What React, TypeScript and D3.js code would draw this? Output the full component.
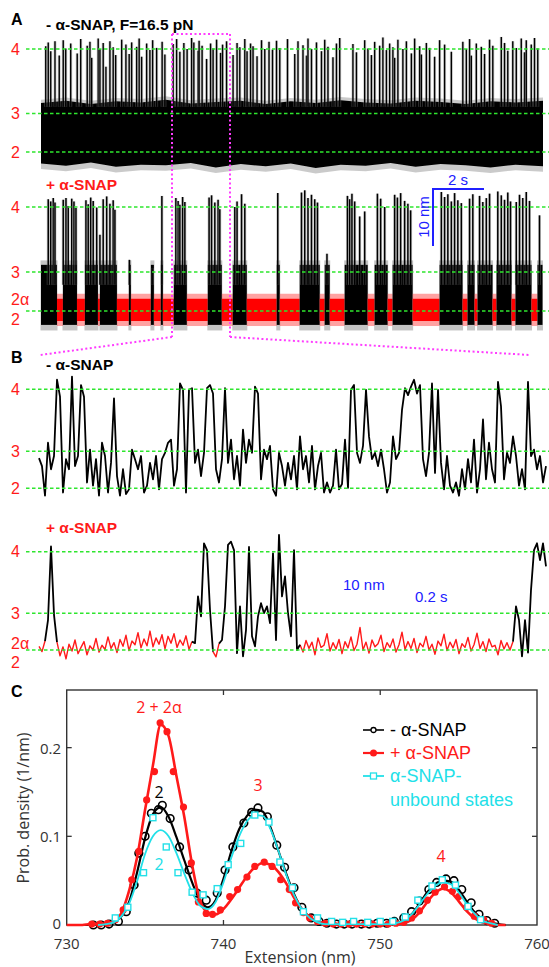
import React from 'react';
import * as d3 from 'd3';

const SANS = '"Liberation Sans", Arial, Helvetica, sans-serif';
const CFONT = '"Open Sans", "Liberation Sans", sans-serif';
const RED = '#ff1a1a';
const GREEN = '#2ee62e';
const BLUE = '#2020ff';
const MAGENTA = '#ff3cff';
const CYAN = '#22e0e8';

// conformational states and their extensions (nm)
const stateNames = ['4', '3', '2'];
const stateNm = [754, 742.3, 735.3];

// ---- A: - alpha-SNAP, 20 s trace ----
// noise band envelope of the 2<->3 flickering, 1 s steps
const aBandTime = [0, 1, 2, 3, 4, 5, 6, 7, 8, 9, 10, 11, 12, 13, 14, 15, 16, 17, 18, 19, 20.1];
const aBandHi = [744.2, 744.6, 744.0, 744.5, 744.3, 744.8, 744.1, 744.4, 744.6, 744.0, 744.5, 744.2, 744.7, 744.3, 744.1, 744.6, 744.4, 744.0, 744.5, 744.3, 744.6];
const aBandLo = [733.2, 732.8, 733.4, 732.6, 733.0, 732.9, 733.3, 732.5, 733.1, 732.7, 733.2, 732.4, 733.0, 732.8, 733.3, 732.6, 733.1, 732.9, 732.5, 733.0, 732.7];
// excursions to state 4: [time s, peak nm]
const aMinusSpikes = [
  [0.19, 754.5], [0.29, 755.2], [0.39, 753.6], [0.56, 755.4], [0.73, 752.8], [0.89, 755.6], [0.99, 754.1], [1.19, 755.0],
  [1.45, 753.2], [1.59, 755.8], [1.85, 754.6], [1.96, 755.3], [2.03, 752.4], [2.29, 755.9], [2.36, 754.0], [2.49, 755.1],
  [2.60, 750.8], [2.76, 755.4], [2.89, 754.3], [2.99, 752.9], [3.23, 755.7], [3.40, 754.8], [3.53, 753.1], [3.63, 755.2],
  [3.83, 754.4], [3.93, 755.9], [4.03, 752.6], [4.23, 755.0], [4.36, 753.8], [4.47, 755.6], [4.63, 754.2], [4.85, 755.3],
  [4.96, 753.0], [5.29, 754.9], [5.43, 755.8], [5.56, 753.5], [5.72, 755.1], [5.85, 754.0], [6.03, 756.0], [6.12, 755.2],
  [6.29, 753.7], [6.33, 755.5], [6.45, 754.6], [6.63, 752.2], [6.79, 755.0], [6.89, 754.1], [7.03, 755.7], [7.19, 753.3],
  [7.27, 754.8], [7.43, 755.4], [7.69, 752.9], [7.85, 755.1], [7.96, 754.3], [8.16, 755.8], [8.25, 753.6], [8.39, 755.0],
  [8.49, 754.5], [8.65, 752.7], [8.83, 755.6], [8.96, 754.0], [9.13, 755.3], [9.27, 753.9], [9.43, 755.5], [9.56, 754.2],
  [9.87, 755.8], [10.16, 753.1], [10.29, 755.4], [10.49, 754.7], [10.63, 752.8], [10.69, 755.9], [10.83, 754.0], [11.03, 755.2],
  [11.23, 753.6], [11.36, 755.7], [11.49, 754.4], [11.69, 752.5], [11.83, 755.0], [11.96, 756.0], [12.49, 754.9], [12.63, 753.4],
  [12.96, 755.6], [13.09, 754.1], [13.23, 752.9], [13.36, 755.3], [13.56, 754.6], [13.69, 756.1], [13.83, 753.8], [13.96, 755.0],
  [14.09, 754.3], [14.16, 752.4], [14.29, 755.7], [14.49, 754.0], [14.63, 755.4], [14.83, 753.2], [14.96, 755.9], [15.16, 754.5],
  [15.23, 753.0], [15.43, 755.1], [15.56, 754.2], [15.76, 752.6], [15.96, 755.6], [16.16, 754.8], [16.43, 753.5], [16.89, 755.3],
  [17.03, 754.0], [17.16, 755.8], [17.23, 752.8], [17.43, 755.0], [17.63, 754.4], [17.76, 753.1], [17.96, 755.7], [18.09, 754.6],
  [18.43, 756.2], [18.56, 755.1], [18.69, 753.7], [18.89, 755.4], [19.03, 754.2], [19.23, 755.9], [19.36, 753.4], [19.43, 755.6],
  [19.63, 754.8], [19.76, 756.0], [19.89, 754.1],
];

// ---- A: + alpha-SNAP ----
// dwell segments [start s, end s, 1 = alpha-SNAP bound (2alpha state)]
const aPlusSegments = [
  [0, 0.64, 0], [0.64, 0.88, 1], [0.88, 1.44, 0], [1.44, 1.76, 1], [1.76, 2.28, 0], [2.28, 2.36, 1], [2.36, 3.04, 0],
  [3.04, 3.52, 1], [3.52, 3.6, 0], [3.6, 4.4, 1], [4.4, 4.52, 0], [4.52, 4.8, 1], [4.8, 4.88, 0], [4.88, 5.32, 1],
  [5.32, 5.84, 0], [5.84, 6.68, 1], [6.68, 7.24, 0], [7.24, 7.68, 1], [7.68, 8.24, 0], [8.24, 9.44, 1], [9.44, 9.56, 0],
  [9.56, 10.36, 1], [10.36, 11.16, 0], [11.16, 11.36, 1], [11.36, 11.56, 0], [11.56, 12.16, 1], [12.16, 13.08, 0],
  [13.08, 13.36, 1], [13.36, 13.88, 0], [13.88, 14.08, 1], [14.08, 14.88, 0], [14.88, 15.96, 1], [15.96, 16.88, 0],
  [16.88, 17.08, 1], [17.08, 17.36, 0], [17.36, 17.48, 1], [17.48, 18.08, 0], [18.08, 18.24, 1], [18.24, 18.84, 0],
  [18.84, 19.0, 1], [19.0, 19.64, 0], [19.64, 19.88, 1], [19.88, 20.08, 0],
];
const aPlusSpikes = [
  [0.29, 755.4], [0.39, 755.0], [0.49, 755.6], [0.56, 754.8],
  [0.89, 755.3], [1.00, 755.6], [1.09, 754.2], [1.23, 755.5], [1.32, 755.0], [1.40, 753.8],
  [1.80, 755.2], [1.89, 754.5], [1.99, 755.7], [2.09, 755.1], [2.23, 753.9],
  [2.36, 749.0], [2.49, 755.4], [2.63, 755.9], [2.76, 754.6], [2.89, 755.2], [2.96, 753.5],
  [3.54, 744.5], [4.45, 743.0], [4.84, 756.0],
  [5.40, 755.6], [5.49, 755.1], [5.56, 754.4], [5.67, 755.8], [5.76, 754.9],
  [6.73, 755.7], [6.83, 756.1], [6.96, 754.8], [7.09, 755.3], [7.16, 753.6],
  [7.76, 754.0], [7.85, 755.0], [8.03, 756.3], [8.16, 754.6],
  [9.48, 756.5],
  [10.43, 756.6], [10.56, 757.0], [10.69, 755.6], [10.83, 756.2], [10.96, 755.4], [11.07, 754.8],
  [11.45, 745.6],
  [12.27, 756.0], [12.36, 755.4], [12.45, 756.4], [12.56, 755.0], [12.76, 752.3], [12.96, 753.2],
  [13.47, 756.4], [13.60, 755.5], [13.76, 754.0],
  [14.16, 756.2], [14.27, 755.7], [14.40, 756.5], [14.56, 755.1], [14.69, 754.6], [14.80, 753.4],
  [16.03, 756.7], [16.16, 755.8], [16.29, 756.3], [16.43, 755.0], [16.56, 756.5], [16.69, 755.2], [16.83, 754.7],
  [17.16, 755.5], [17.29, 756.3],
  [17.56, 756.0], [17.69, 754.9], [17.83, 755.6], [17.96, 756.4],
  [18.29, 756.8], [18.43, 756.1], [18.56, 755.3], [18.69, 756.6], [18.80, 755.0],
  [19.03, 754.9], [19.16, 756.2], [19.29, 755.6], [19.43, 756.7], [19.56, 755.1],
  [19.96, 752.5],
];

// ---- B: zoomed traces, one sample every 13.6 ms (nm) ----
const bDt = 0.0136;
const bMinusTrace = [
  741, 739.5, 733.9, 743.9, 738.9, 741.4, 755.8, 752.6, 734.5, 740.8,
  738.9, 756.4, 739.5, 741.4, 754.8, 752.6, 736.4, 742.6, 735.8, 740.8,
  733.9, 743.9, 741.4, 734.5, 740.1, 752.3, 737.6, 733.9, 738.9, 734.2,
  735.1, 742.6, 740.8, 738.9, 741.4, 734.5, 735.8, 740.1, 737, 741.4,
  735.1, 740.8, 742, 743.9, 744.5, 735.8, 738.9, 755.1, 753.9, 734.5,
  753.9, 754.2, 740.1, 742.6, 737.6, 742, 754.2, 754.8, 753.2, 738.9,
  736.4, 740.8, 754.2, 740.1, 744.5, 737, 741.4, 735.8, 746.4, 740.1,
  744.5, 742, 754.5, 753.2, 737, 742.6, 740.8, 743.3, 735.1, 733.9,
  742, 739.5, 735.8, 740.1,
  737, 741.4, 735.1, 745.1, 738.9, 741.4, 736.4, 743.3, 735.1, 739.5,
  742, 734.5, 736.4, 734.5, 735.8, 742.6, 735.1, 736.1, 744.5, 735.4,
  753.9, 754.8, 742, 740.1, 743.3, 753.9, 745.1, 740.8, 742, 739.5,
  742.6, 738.9, 734.5, 736.4, 745.1, 740.8, 742, 750.1, 754.2, 752.9,
  754.5, 755.8, 753.2, 754.8, 740.8, 737.6, 742, 755.1, 738.2, 753.9,
  740.1, 735.1, 741.4, 735.8, 734.5, 736.4, 733.9, 738.9, 735.1, 740.8,
  736.4, 744.5, 734.5, 738.9, 748.3, 737, 743.9, 738.9, 736.4, 755.4,
  750.8, 737, 742, 740.1, 745.1, 741.4, 735.8, 738.9, 735.1, 755.4,
  741.4, 742.6, 738.9, 741.4, 736.4, 739.5,
];
const bPlusTrace = [
  736, 735, 737,
  741, 755, 742,
  736.8, 734.2, 735.9, 733.6, 736.4, 735.1, 737.2, 734.6, 735.8, 736.9,
  734.4, 736.1, 735.3, 737.5, 734.9, 736.2, 735.4, 737.8, 735.6, 736.7,
  734.8, 737.3, 736.0, 738.1, 735.2, 737.0, 736.3, 738.6, 735.7, 737.4,
  736.1, 738.9, 735.9, 737.6, 736.4, 738.2, 735.5, 737.9, 736.6, 738.4,
  735.8, 737.2, 736.2, 738.0, 735.4, 736.9,
  736.6, 745.5, 741.7, 755.6, 754.3, 742.9,
  735, 734, 736.5,
  737.2, 743.6, 755.3, 755.9, 754.3, 734.7, 743.6, 734.1, 739.1, 754.9,
  737.9, 736, 741.7, 744.2, 742.3, 743.6, 740.4, 753.7, 737.2, 757.2,
  745.5, 749.3, 742.3, 737.9, 754.3, 735.3,
  736.3, 734.9, 737.1, 735.6, 736.8, 734.4, 737.6, 735.8, 736.2, 738.4,
  735.1, 736.7, 735.5, 737.3, 734.6, 736.9, 735.7, 737.8, 735.2, 736.4,
  739.6, 735.3, 736.8, 734.7, 737.2, 735.9, 736.5, 738.1, 735.0, 736.7,
  735.8, 737.4, 734.9, 736.3, 738.7, 735.4, 736.9, 735.6, 737.5, 734.8,
  736.6, 735.9, 737.9, 735.3, 736.4, 734.5, 737.0, 736.1, 738.3, 735.2,
  736.8, 735.7, 737.3, 734.6, 736.5, 735.8, 737.7, 735.1, 736.3, 738.5,
  735.6, 736.9, 735.0, 737.4, 735.9, 736.2, 734.4, 737.1, 735.5, 736.7,
  735.3, 736.9,
  743.6, 741, 734.1, 741, 734.8, 746.7, 754.3, 755.6, 752.4, 755.6, 751.2,
];
// alpha-SNAP bound intervals (s) in the + trace
const bPlusBound = [[0, 0.03], [0.08, 0.70], [0.78, 0.82], [1.18, 2.15]];

// ---- C: extension histograms ----
const fitX = [
  730, 730.5, 731, 731.5, 732, 732.5, 733, 733.5, 734, 734.5, 735, 735.5, 736, 736.5, 737, 737.5, 738, 738.5, 739, 739.5,
  740, 740.5, 741, 741.5, 742, 742.5, 743, 743.5, 744, 744.5, 745, 745.5, 746, 746.5, 747, 747.5, 748, 748.5, 749, 749.5,
  750, 750.5, 751, 751.5, 752, 752.5, 753, 753.5, 754, 754.5, 755, 755.5, 756, 756.5, 757, 757.5, 758, 758.5, 759, 759.5, 760,
];
const redFit = [
  0, 0, 0, 0.001, 0.001, 0.002, 0.004, 0.014, 0.04, 0.077, 0.13, 0.18, 0.226, 0.213, 0.168, 0.122, 0.068, 0.028, 0.014, 0.012,
  0.018, 0.029, 0.042, 0.055, 0.065, 0.07, 0.068, 0.06, 0.047, 0.031, 0.018, 0.009, 0.004, 0.002, 0.001, 0.001, 0.001, 0.001, 0.001, 0.001,
  0.001, 0.001, 0.001, 0.002, 0.006, 0.014, 0.026, 0.036, 0.041, 0.037, 0.027, 0.016, 0.008, 0.003, 0.001, 0, 0, null, null, null, null,
];
const blackFit = [
  null, null, 0, 0, 0.001, 0.002, 0.004, 0.01, 0.027, 0.06, 0.098, 0.125, 0.133, 0.122, 0.099, 0.073, 0.048, 0.028, 0.02, 0.028,
  0.052, 0.083, 0.108, 0.123, 0.13, 0.128, 0.11, 0.084, 0.058, 0.035, 0.018, 0.009, 0.004, 0.002, 0.001, 0.001, 0.001, 0.001, 0.001, 0.001,
  0.001, 0.001, 0.002, 0.005, 0.012, 0.024, 0.037, 0.046, 0.05, 0.049, 0.04, 0.027, 0.015, 0.007, 0.003, 0.001, 0, null, null, null, null,
];
const cyanFit = [
  null, null, null, null, 0, 0.001, 0.003, 0.01, 0.025, 0.05, 0.08, 0.1, 0.107, 0.1, 0.081, 0.058, 0.037, 0.022, 0.018, 0.026,
  0.048, 0.076, 0.1, 0.117, 0.124, 0.123, 0.108, 0.084, 0.057, 0.034, 0.018, 0.008, 0.003, 0.001, 0.001, 0.001, 0.001, 0.001, 0.001, 0.001,
  0.001, 0.001, 0.002, 0.005, 0.012, 0.023, 0.035, 0.044, 0.048, 0.046, 0.037, 0.024, 0.013, 0.005, 0.002, 0, null, null, null, null, null,
];
const blackPtsX = [731.7, 732.2, 732.7, 733.3, 733.8, 734.3, 734.6, 735.0, 735.4, 735.85, 736.1, 736.6, 737.2, 737.8, 738.3, 738.9, 739.6, 740.1, 740.6, 741.3, 741.8, 742.2, 742.8, 743.4, 743.9, 744.5, 745.0, 745.6, 746.1, 746.6, 747.2, 747.7, 748.2, 748.8, 749.3, 749.8, 750.4, 750.9, 751.5, 752.0, 752.5, 753.1, 753.6, 754.2, 754.7, 755.2, 755.8, 756.3, 756.8, 757.3];
const blackPtsY = [0, 0, 0.001, 0.004, 0.015, 0.045, 0.081, 0.1, 0.126, 0.13, 0.135, 0.12, 0.088, 0.062, 0.036, 0.028, 0.036, 0.062, 0.088, 0.115, 0.127, 0.132, 0.122, 0.09, 0.065, 0.042, 0.02, 0.008, 0.004, 0.002, 0.001, 0.001, 0.001, 0.001, 0.001, 0.002, 0.002, 0.004, 0.008, 0.015, 0.027, 0.04, 0.048, 0.052, 0.05, 0.04, 0.025, 0.012, 0.005, 0.002];
const redPtsX = [731.6, 732.1, 732.6, 733.1, 733.6, 734.15, 734.6, 735.1, 735.6, 735.96, 736.4, 736.8, 737.45, 737.95, 738.4, 738.9, 739.3, 739.8, 740.4, 740.9, 741.5, 742.0, 742.6, 743.1, 743.65, 744.2, 744.6, 745.1, 745.5, 746.0, 746.5, 747.0, 747.5, 748.0, 748.5, 749.0, 749.5, 750.0, 750.5, 751.0, 751.5, 752.0, 752.5, 753.0, 753.5, 754.1, 754.6, 755.0, 755.5, 756.0, 756.6, 757.1];
const redPtsY = [0.001, 0.001, 0.002, 0.006, 0.017, 0.051, 0.083, 0.141, 0.173, 0.228, 0.218, 0.173, 0.133, 0.07, 0.026, 0.013, 0.012, 0.017, 0.032, 0.04, 0.054, 0.066, 0.071, 0.066, 0.051, 0.04, 0.025, 0.014, 0.008, 0.004, 0.002, 0.001, 0.001, 0.001, 0.001, 0.001, 0.001, 0.001, 0.001, 0.002, 0.003, 0.008, 0.016, 0.028, 0.037, 0.043, 0.038, 0.032, 0.02, 0.01, 0.006, 0.002];
const cyanPtsX = [733.1, 733.9, 734.9, 735.5, 736.35, 737.1, 738.0, 738.7, 739.6, 740.3, 741.1, 742.0, 742.9, 743.6, 744.4, 745.1, 746.0, 746.9, 747.6, 748.3, 749.2, 750.0, 750.8, 751.6, 752.4, 753.3, 753.96, 754.8, 755.6, 756.4];
const cyanPtsY = [0.008, 0.02, 0.059, 0.121, 0.088, 0.059, 0.037, 0.034, 0.041, 0.068, 0.092, 0.124, 0.116, 0.071, 0.042, 0.015, 0.008, 0.004, 0.003, 0.004, 0.003, 0.004, 0.004, 0.009, 0.028, 0.044, 0.051, 0.045, 0.021, 0.006];
const cXTicks = [730, 740, 750, 760];
const cYTicks = [0, 0.1, 0.2];

// scales
const xA = d3.scaleLinear().domain([0, 20.1]).range([41, 543]);
const yA1 = d3.scaleLinear().domain([735.3, 754]).range([152, 49]);
const yA2 = d3.scaleLinear().domain([735.3, 754]).range([311, 207]);
const xB = d3.scaleLinear().domain([0, (bMinusTrace.length - 1) * bDt]).range([39, 546]);
const yB1 = d3.scaleLinear().domain([735.3, 754]).range([488.3, 389.3]);
const yB2 = d3.scaleLinear().domain([735.3, 754]).range([650, 551.7]);
const xC = d3.scaleLinear().domain([730, 760]).range([66.7, 537]);
const yC = d3.scaleLinear().domain([0, 0.265]).range([925, 690]);

function guides(y: any, key: string) {
  return stateNm.map((v, i) => (
    <line key={key + i} x1={26} x2={549} y1={y(v)} y2={y(v)} stroke={GREEN} strokeWidth={1.6} strokeDasharray="3.5 2.5" />
  ));
}

function levelLabels(y: any, alpha: null | [number, number]) {
  return stateNames.map((n, i) => {
    if (n === '2' && alpha) {
      return (
        <g key={n}>
          <text x={11} y={y(stateNm[i]) + alpha[0]} dominantBaseline="central">2α</text>
          <text x={11} y={y(stateNm[i]) + alpha[1]} dominantBaseline="central">2</text>
        </g>
      );
    }
    return <text key={n} x={11} y={y(stateNm[i])} dominantBaseline="central">{n}</text>;
  });
}

function traceRuns(values: number[], bound: number[][]) {
  const isBound = values.map((_, i) => bound.some(([a, b]) => i * bDt >= a - 1e-9 && i * bDt <= b + 1e-9));
  const runs: { bound: boolean; idx: number[] }[] = [];
  let s = 0;
  for (let i = 1; i <= values.length; i++) {
    if (i === values.length || isBound[i] !== isBound[s]) {
      const b = isBound[s];
      const from = b ? s : Math.max(0, s - 1);
      const to = b ? i - 1 : Math.min(values.length - 1, i);
      runs.push({ bound: b, idx: d3.range(from, to + 1) });
      s = i;
    }
  }
  return runs;
}

export default function App() {
  const bandCore = d3.area<number>()
    .x(i => xA(aBandTime[i]))
    .y0(i => yA1(aBandLo[i]))
    .y1(i => yA1(aBandHi[i]));
  const bandFringe = d3.area<number>()
    .x(i => xA(aBandTime[i]))
    .y0(i => yA1(aBandLo[i] - 1.0))
    .y1(i => yA1(aBandHi[i] + 0.6));
  const bandIdx = d3.range(aBandTime.length);

  const lineB = (vals: number[], y: any) => d3.line<number>().x(i => xB(i * bDt)).y(i => y(vals[i]));
  const minusLine = lineB(bMinusTrace, yB1)(d3.range(bMinusTrace.length));
  const plusRuns = traceRuns(bPlusTrace, bPlusBound);
  const plusLine = lineB(bPlusTrace, yB2);

  const fitLine = (vals: (number | null)[]) =>
    d3.line<number>().defined(i => vals[i] !== null).x(i => xC(fitX[i])).y(i => yC(vals[i] as number)).curve(d3.curveMonotoneX)(d3.range(fitX.length));

  const labelStyle = { fontFamily: SANS, fontSize: 16, fill: RED };

  return (
    <svg width={549} height={967} style={{ position: 'absolute', left: 0, top: 0, background: '#fff' }}>
      {/* ---------------- A ---------------- */}
      <text x={11} y={25} fontFamily={SANS} fontWeight="bold" fontSize={16}>A</text>
      <text x={46} y={30} fontFamily={SANS} fontWeight="bold" fontSize={15.5}>- α-SNAP, F=16.5 pN</text>
      <g>
        <path d={bandFringe(bandIdx) || ''} fill="#666" opacity={0.35} />
        <path d={bandCore(bandIdx) || ''} fill="#000" />
        {aMinusSpikes.map(([t, p], i) => (
          <g key={i}>
            <line x1={xA(t)} x2={xA(t)} y1={yA1(743.5)} y2={yA1(p)} stroke="#888" strokeWidth={3} opacity={0.4} />
            <line x1={xA(t)} x2={xA(t)} y1={yA1(743.5)} y2={yA1(p)} stroke="#000" strokeWidth={1.4} />
          </g>
        ))}
      </g>
      {guides(yA1, 'a1')}
      <g {...labelStyle}>{levelLabels(yA1, null)}</g>

      <text x={46} y={190} fontFamily={SANS} fontWeight="bold" fontSize={15.5} fill={RED}>+ α-SNAP</text>
      <g>
        {aPlusSegments.map(([t0, t1, b], i) => b ? (
          <g key={i}>
            <rect x={xA(t0)} width={xA(t1) - xA(t0)} y={yA2(738.4)} height={yA2(732.6) - yA2(738.4)} fill="#ff3030" opacity={0.45} />
            <rect x={xA(t0)} width={xA(t1) - xA(t0)} y={yA2(737.5)} height={yA2(733.5) - yA2(737.5)} fill="#ff0000" />
          </g>
        ) : (
          <g key={i}>
            <rect x={xA(t0) - 0.5} width={xA(t1) - xA(t0) + 1} y={yA2(744.4)} height={yA2(731.8) - yA2(744.4)} fill="#555" opacity={0.35} />
            <rect x={xA(t0)} width={xA(t1) - xA(t0)} y={yA2(743.6)} height={yA2(732.8) - yA2(743.6)} fill="#000" />
          </g>
        ))}
        {aPlusSpikes.map(([t, p], i) => (
          <g key={i}>
            <line x1={xA(t)} x2={xA(t)} y1={yA2(740)} y2={yA2(p)} stroke="#888" strokeWidth={3} opacity={0.4} />
            <line x1={xA(t)} x2={xA(t)} y1={yA2(740)} y2={yA2(p)} stroke="#000" strokeWidth={1.5} />
          </g>
        ))}
      </g>
      {guides(yA2, 'a2')}
      <g {...labelStyle}>{levelLabels(yA2, [-12, 8])}</g>

      {/* scale bar */}
      <g stroke={BLUE} strokeWidth={2} fill="none">
        <line x1={433} x2={484} y1={189} y2={189} />
        <line x1={433} x2={433} y1={188} y2={246} />
      </g>
      <text x={458} y={185} textAnchor="middle" fontFamily={SANS} fontSize={15} fill={BLUE}>2 s</text>
      <text x={423} y={217} textAnchor="middle" dominantBaseline="central" fontFamily={SANS} fontSize={15} fill={BLUE} transform="rotate(-90 423 217)">10 nm</text>

      {/* zoom window */}
      <g stroke={MAGENTA} strokeWidth={2} strokeDasharray="2 2.5" fill="none">
        <line x1={172} x2={230} y1={34} y2={34} />
        <line x1={172} x2={172} y1={34} y2={337} />
        <line x1={230} x2={230} y1={34} y2={337} />
        <line x1={172} x2={40} y1={337} y2={355} />
        <line x1={230} x2={530} y1={337} y2={355} />
      </g>

      {/* ---------------- B ---------------- */}
      <text x={11} y={363} fontFamily={SANS} fontWeight="bold" fontSize={16}>B</text>
      <text x={46} y={370} fontFamily={SANS} fontWeight="bold" fontSize={15.5}>- α-SNAP</text>
      <path d={minusLine || ''} fill="none" stroke="#000" strokeWidth={1.8} strokeLinejoin="round" />
      {guides(yB1, 'b1')}
      <g {...labelStyle}>{levelLabels(yB1, null)}</g>

      <text x={46} y={533} fontFamily={SANS} fontWeight="bold" fontSize={15.5} fill={RED}>+ α-SNAP</text>
      {plusRuns.filter(r => r.bound).map((r, i) => (
        <path key={'r' + i} d={plusLine(r.idx) || ''} fill="none" stroke={RED} strokeWidth={1.4} strokeLinejoin="round" />
      ))}
      {plusRuns.filter(r => !r.bound).map((r, i) => (
        <path key={'k' + i} d={plusLine(r.idx) || ''} fill="none" stroke="#000" strokeWidth={1.8} strokeLinejoin="round" />
      ))}
      {guides(yB2, 'b2')}
      <g {...labelStyle}>{levelLabels(yB2, [-7, 12])}</g>
      <text x={343} y={590} fontFamily={SANS} fontSize={15} fill={BLUE}>10 nm</text>
      <text x={415} y={602} fontFamily={SANS} fontSize={15} fill={BLUE}>0.2 s</text>

      {/* ---------------- C ---------------- */}
      <text x={11} y={697} fontFamily={SANS} fontWeight="bold" fontSize={16}>C</text>
      <rect x={xC(730)} y={yC(0.265)} width={xC(760) - xC(730)} height={yC(0) - yC(0.265)} fill="none" stroke="#333" strokeWidth={1.4} />
      {cXTicks.slice(1, 3).map(v => (
        <g key={'xt' + v} stroke="#333" strokeWidth={1.3}>
          <line x1={xC(v)} x2={xC(v)} y1={yC(0)} y2={yC(0) - 5} />
          <line x1={xC(v)} x2={xC(v)} y1={yC(0.265)} y2={yC(0.265) + 5} />
        </g>
      ))}
      {cYTicks.slice(1).map(v => (
        <g key={'yt' + v} stroke="#333" strokeWidth={1.3}>
          <line x1={xC(730)} x2={xC(730) + 5} y1={yC(v)} y2={yC(v)} />
          <line x1={xC(760)} x2={xC(760) - 5} y1={yC(v)} y2={yC(v)} />
        </g>
      ))}
      <g fontFamily={CFONT} fontSize={15} fill="#333">
        {cXTicks.map(v => (
          <text key={'xl' + v} x={xC(v)} y={949} textAnchor="middle">{v}</text>
        ))}
        {cYTicks.map(v => (
          <text key={'yl' + v} x={61} y={yC(v) - (v === 0 ? 2 : 0)} textAnchor="end" dominantBaseline="central">{String(v)}</text>
        ))}
      </g>
      <text x={300} y={963} textAnchor="middle" fontFamily={CFONT} fontSize={16} fill="#333">Extension (nm)</text>
      <text x={23} y={808} textAnchor="middle" dominantBaseline="central" fontFamily={CFONT} fontSize={16} fill="#333" transform="rotate(-90 23 808)">Prob. density (1/nm)</text>

      {/* black: - alpha-SNAP */}
      <path d={fitLine(blackFit) || ''} fill="none" stroke="#000" strokeWidth={2.2} />
      {blackPtsX.map((x, i) => (
        <circle key={'bp' + i} cx={xC(x)} cy={yC(blackPtsY[i])} r={3.8} fill="none" stroke="#000" strokeWidth={1.6} />
      ))}
      {/* red: + alpha-SNAP */}
      <path d={fitLine(redFit) || ''} fill="none" stroke={RED} strokeWidth={2.6} />
      {redPtsX.map((x, i) => (
        <circle key={'rp' + i} cx={xC(x)} cy={yC(redPtsY[i])} r={3.6} fill={RED} />
      ))}
      {/* cyan: alpha-SNAP-unbound states */}
      <path d={fitLine(cyanFit) || ''} fill="none" stroke={CYAN} strokeWidth={1.8} />
      {cyanPtsX.map((x, i) => (
        <rect key={'cp' + i} x={xC(x) - 3} y={yC(cyanPtsY[i]) - 3} width={6} height={6} fill="#fff" stroke={CYAN} strokeWidth={1.4} />
      ))}

      {/* peak labels */}
      <g fontFamily={CFONT} fontSize={16} textAnchor="middle" dominantBaseline="central">
        <text x={159} y={707} fill={RED}>2 + 2α</text>
        <text x={159} y={792} fill="#000">2</text>
        <text x={159} y={864} fill={CYAN}>2</text>
        <text x={258} y={785} fill={RED}>3</text>
        <text x={441} y={856} fill={RED}>4</text>
      </g>

      {/* legend */}
      <g fontFamily={SANS} fontSize={18}>
        <line x1={363} x2={384} y1={730} y2={730} stroke="#000" strokeWidth={1.6} />
        <circle cx={373.5} cy={730} r={2.5} fill="#fff" stroke="#000" strokeWidth={1.3} />
        <text x={390} y={730} dominantBaseline="central" fill="#000">- α-SNAP</text>
        <line x1={363} x2={384} y1={753} y2={753} stroke={RED} strokeWidth={2.2} />
        <circle cx={373.5} cy={753} r={3.5} fill={RED} />
        <text x={390} y={753} dominantBaseline="central" fill={RED}>+ α-SNAP</text>
        <line x1={363} x2={384} y1={776} y2={776} stroke={CYAN} strokeWidth={1.8} />
        <rect x={370.5} y={773} width={6} height={6} fill="#fff" stroke={CYAN} strokeWidth={1.3} />
        <text x={390} y={776} dominantBaseline="central" fill={CYAN}>α-SNAP-</text>
        <text x={390} y={800} dominantBaseline="central" fill={CYAN}>unbound states</text>
      </g>
    </svg>
  );
}
